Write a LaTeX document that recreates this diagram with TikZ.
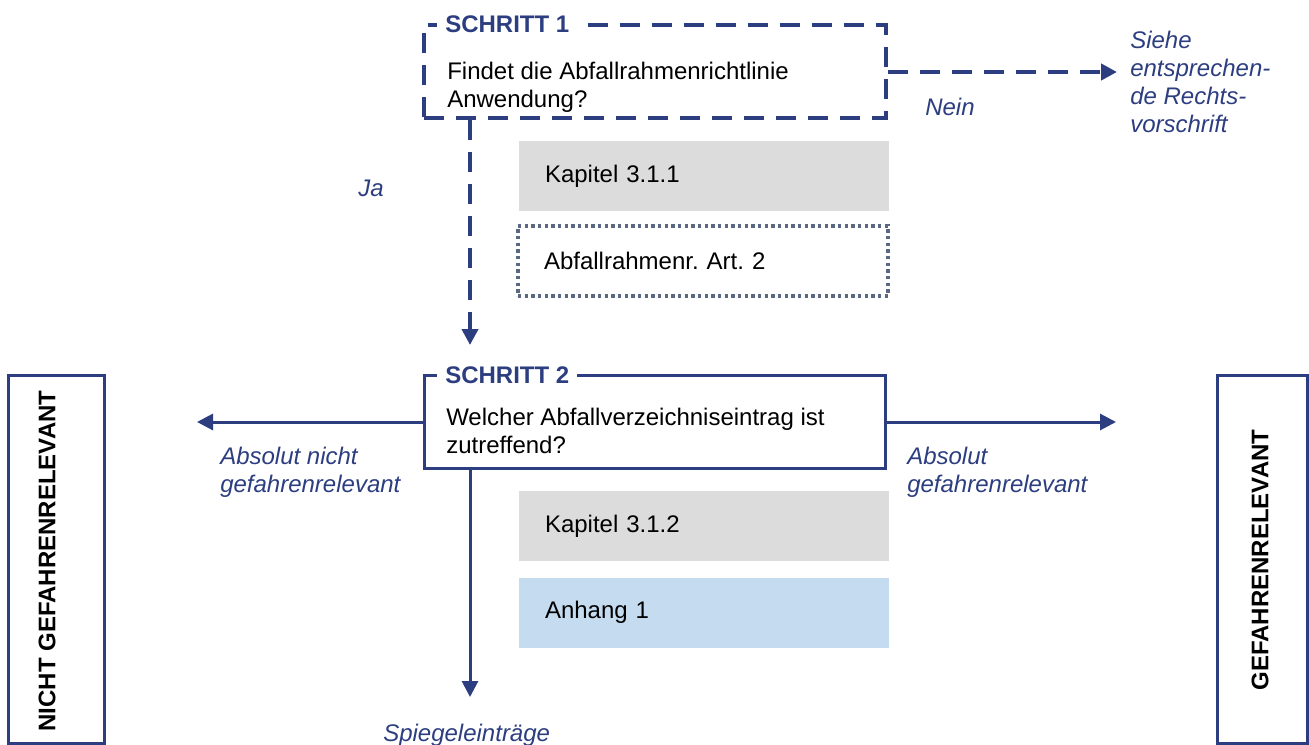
\documentclass[tikz,border=0pt]{standalone}
\usepackage{fontspec}
\setmainfont{Liberation Sans}
\usepackage{xcolor}
\usepackage{tikz}
\usetikzlibrary{arrows.meta}

\definecolor{navy}{RGB}{44,62,128}
\definecolor{kapgray}{RGB}{220,220,220}
\definecolor{anhblue}{RGB}{197,219,239}
\definecolor{dotgray}{RGB}{90,104,130}

\tikzset{
  stepbox/.style={draw=navy, line width=2.25pt, minimum width=346pt, minimum height=70pt, inner sep=0pt},
  dashbox/.style={stepbox, line width=3pt, dash pattern=on 15pt off 9pt},
  steptitle/.style={anchor=west, fill=white, text=navy, font=\bfseries, inner xsep=6pt, inner ysep=2pt},
  question/.style={anchor=north west, align=left, inner sep=0pt},
  refbox/.style={minimum height=52.5pt, text width=238.5pt, inner xsep=19.5pt, align=left},
  flow/.style={draw=navy, line width=2.25pt, -{Triangle[length=12pt,width=12pt]}},
  flowdash/.style={flow, line width=3pt, dash pattern=on 15pt off 9pt},
  answer/.style={text=navy, font=\itshape\fontsize{18}{21}\selectfont, align=left, inner sep=0pt},
  sidebox/.style={draw=navy, line width=2.25pt, minimum height=276pt, inner sep=0pt},
  sidetext/.style={rotate=90, font=\bfseries, inner sep=0pt}
}

\begin{document}
\frenchspacing
\fontsize{18}{21}\selectfont
\begin{tikzpicture}[x=0.75pt,y=-0.75pt]
\clip (0,0) rectangle (1309,745);

% Schritt 1
\node[dashbox] (s1) at (655,71.5) {};
\node[steptitle] (t1) at (437,24) {SCHRITT 1};
\node[question] (q1) at (447,62)
{Findet die Abfallrahmenrichtlinie\\Anwendung?};
\node[refbox, fill=kapgray] (k1) at (704,176) {Kapitel 3.1.1};
\node[refbox, draw=dotgray, line width=2.5pt, dash pattern=on 2.5pt off 2.5pt] (art2) at (703,261)
{Abfallrahmenr. Art. 2};

\coordinate (nein) at (1117,72);
\coordinate (ja) at (470,345);
\draw[flowdash] (s1.east |- nein) -- (nein);
\draw[flowdash] (s1.south -| ja) -- (ja);
\node[answer, anchor=west] (neinl) at (925,107) {Nein};
\node[answer, anchor=north west] (siehe) at (1130,31)
{Siehe\\entsprechen-\\de Rechts-\\vorschrift};
\node[answer, anchor=west] (jal) at (358,188) {Ja};

% Schritt 2
\node[stepbox] (s2) at (655,422) {};
\node[steptitle] (t2) at (437,375) {SCHRITT 2};
\node[question] (q2) at (446,408)
{Welcher Abfallverzeichniseintrag ist\\zutreffend?};
\node[refbox, fill=kapgray] (k2) at (704,526) {Kapitel 3.1.2};
\node[refbox, fill=anhblue] (anh) at (704,612.5) {Anhang 1};

\coordinate (nrel) at (197,422);
\coordinate (rel) at (1116,422);
\coordinate (spiegel) at (470,697);
\draw[flow] (s2.west) -- (nrel);
\draw[flow] (s2.east) -- (rel);
\draw[flow] (s2.south -| spiegel) -- (spiegel);
\node[answer, anchor=north west] (nrell) at (220,447)
{Absolut nicht\\gefahrenrelevant};
\node[answer, anchor=north west] (rell) at (907,447)
{Absolut\\gefahrenrelevant};
\node[answer, anchor=north west] (spiegell) at (383,724) {Spiegeleinträge};

% Ergebnisse
\node[sidebox, minimum width=72pt] (nrelbox) at (56,559) {};
\node[sidetext] (nreltext) at (47,561) {NICHT GEFAHRENRELEVANT};
\node[sidebox, minimum width=67.5pt] (relbox) at (1262,559) {};
\node[sidetext] (reltext) at (1260,560) {GEFAHRENRELEVANT};
\end{tikzpicture}
\end{document}
